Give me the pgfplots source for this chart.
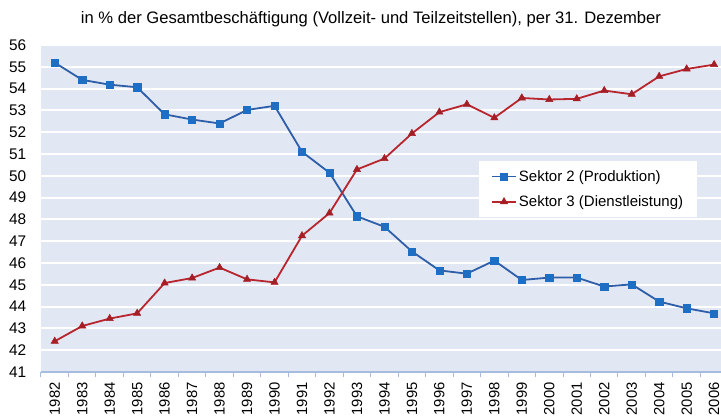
\documentclass[border=0pt]{standalone}
\usepackage{fontspec}
\setmainfont{Liberation Sans}
\usepackage{pgfplots}
\pgfplotsset{compat=1.18}
\definecolor{bgblue}{HTML}{E1E8F4}
\definecolor{axblue}{HTML}{A5BCE0}
\definecolor{sblue}{HTML}{2F5EA8}
\definecolor{smark}{HTML}{1E6EC4}
\definecolor{sred}{HTML}{B8252D}
\definecolor{smarkr}{HTML}{A51E26}
\begin{document}
\begin{tikzpicture}
\useasboundingbox (-41pt,-47pt) rectangle (680pt,372pt);
\begin{axis}[
  scale only axis,
  width=680pt, height=327pt,
  xmin=-0.5, xmax=24.25,
  ymin=41, ymax=56,
  ytick={41,...,56},
  xtick={0,...,24},
  xticklabels={1982,1983,1984,1985,1986,1987,1988,1989,1990,1991,1992,1993,1994,1995,1996,1997,1998,1999,2000,2001,2002,2003,2004,2005,2006},
  minor xtick={-0.5,0.5,...,24.5},
  major x tick style={draw=none},
  minor x tick style={draw=axblue, line width=1pt},
  minor tick length=5pt,
  tick align=outside,
  y tick style={draw=none},
  axis x line*=bottom,
  axis y line*=left,
  x axis line style={draw=axblue, line width=1.2pt, -},
  y axis line style={draw=none},
  axis background/.style={fill=bgblue},
  ymajorgrids,
  major grid style={white, line width=2pt},
  /pgf/number format/assume math mode=true,
  yticklabel style={font=\fontsize{15.4}{18}\selectfont, xshift=-7pt},
  xticklabel style={font=\fontsize{14.8}{17}\selectfont, rotate=90, anchor=east, inner xsep=6pt},
  legend style={at={(0.644,0.645)}, anchor=north west, fill=white, draw=none,
    font=\fontsize{15}{18}\selectfont, inner xsep=12pt, inner ysep=7pt, row sep=9pt,
    cells={anchor=west}},
  legend image code/.code={\draw[#1, mark repeat=2, mark phase=2] plot coordinates {(0pt,0pt) (12pt,0pt) (24pt,0pt)};},
]
\addplot[sblue, line width=1.8pt, mark=square*, mark size=3.6pt, mark options={fill=smark, draw=smark, line width=0.5pt}] coordinates {
(0,55.19) (1,54.40) (2,54.18) (3,54.06) (4,52.82) (5,52.58) (6,52.40) (7,53.02) (8,53.21)
(9,51.10) (10,50.14) (11,48.14) (12,47.66) (13,46.53) (14,45.66) (15,45.51) (16,46.11)
(17,45.22) (18,45.33) (19,45.33) (20,44.92) (21,45.02) (22,44.23) (23,43.92) (24,43.69)};
\addlegendentry{Sektor 2 (Produktion)}
\addplot[sred, line width=1.8pt, mark=triangle*, mark size=4.2pt, mark options={fill=smarkr, draw=smarkr, line width=0.5pt}] coordinates {
(0,42.41) (1,43.11) (2,43.45) (3,43.69) (4,45.08) (5,45.31) (6,45.79) (7,45.25) (8,45.11)
(9,47.25) (10,48.29) (11,50.29) (12,50.79) (13,51.94) (14,52.92) (15,53.28) (16,52.66)
(17,53.57) (18,53.50) (19,53.53) (20,53.91) (21,53.74) (22,54.56) (23,54.90) (24,55.10)};
\addlegendentry{Sektor 3 (Dienstleistung)}
\end{axis}
\node[anchor=base, inner sep=0pt, font=\fontsize{16.6}{19}\selectfont] at (330pt,348pt) {in \% der Gesamtbeschäftigung (Vollzeit- und Teilzeitstellen), per 31. Dezember};
\end{tikzpicture}
\end{document}
